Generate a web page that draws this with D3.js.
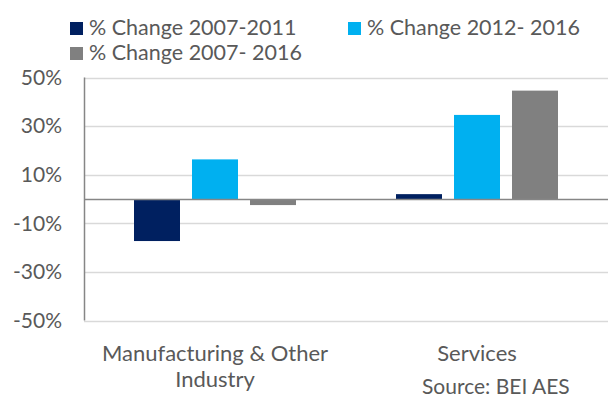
<!DOCTYPE html>
<html>
<head>
<meta charset="utf-8">
<script src="https://cdn.jsdelivr.net/npm/d3@7"></script>
<style>
  body { margin: 0; background: #fff; }
  svg text { font-family: Lato, "Open Sans", sans-serif; fill: #595959; }
</style>
</head>
<body>
<div id="chart"></div>
<script>
// data
const categories = ["Manufacturing & Other Industry", "Services"];
const seriesNames = ["% Change 2007-2011", "% Change 2012- 2016", "% Change 2007- 2016"];
const seriesColors = ["#002060", "#00B0F0", "#808080"];
const change0711 = [-17.3, 2.0];
const change1216 = [16.3, 34.6];
const change0716 = [-2.5, 44.6];
const yTicks = [-50, -30, -10, 10, 30, 50];

const width = 613, height = 401;
const margin = { top: 77.5, right: 5, bottom: 80.5, left: 84 };

const svg = d3.select('#chart')
    .append('svg')
    .attr('width', width)
    .attr('height', height);

const rows = categories.map((c, i) => ({
    cat: c,
    values: [change0711[i], change1216[i], change0716[i]]
}));

const x0 = d3.scaleBand()
    .domain(categories)
    .range([margin.left, width - margin.right])
    .padding(0);

const x1 = d3.scaleBand()
    .domain(d3.range(seriesNames.length))
    .range([0, x0.bandwidth()])
    .paddingInner(0.207)
    .paddingOuter(0.862);

const y = d3.scaleLinear()
    .domain([-50, 50])
    .range([height - margin.bottom, margin.top]);

// gridlines
svg.append('g')
    .selectAll('line')
    .data(yTicks)
    .enter().append('line')
    .attr('x1', margin.left)
    .attr('x2', width - margin.right)
    .attr('y1', d => Math.round(y(d)) + 0.5)
    .attr('y2', d => Math.round(y(d)) + 0.5)
    .attr('stroke', '#d9d9d9')
    .attr('stroke-width', 1.5);

// bars
const groups = svg.append('g')
    .selectAll('g')
    .data(rows)
    .enter().append('g')
    .attr('transform', d => `translate(${x0(d.cat)},0)`);

groups.selectAll('rect')
    .data(d => d.values.map((v, i) => ({ v, i })))
    .enter().append('rect')
    .attr('x', d => x1(d.i))
    .attr('width', x1.bandwidth())
    .attr('y', d => y(Math.max(0, d.v)))
    .attr('height', d => Math.abs(y(d.v) - y(0)))
    .attr('fill', d => seriesColors[d.i]);

// y axis line and zero line
svg.append('line')
    .attr('x1', margin.left + 0.5).attr('x2', margin.left + 0.5)
    .attr('y1', y(50)).attr('y2', y(-50))
    .attr('stroke', '#868686').attr('stroke-width', 1.5);

svg.append('line')
    .attr('x1', margin.left)
    .attr('x2', width - margin.right)
    .attr('y1', Math.round(y(0)) + 0.5)
    .attr('y2', Math.round(y(0)) + 0.5)
    .attr('stroke', '#868686')
    .attr('stroke-width', 1.5);

// y tick labels
const yAxis = d3.axisLeft(y)
    .tickValues(yTicks)
    .tickSize(0)
    .tickPadding(22)
    .tickFormat(d => d + '%');

svg.append('g')
    .attr('transform', `translate(${margin.left},0)`)
    .call(yAxis)
    .call(g => g.select('.domain').remove())
    .selectAll('text')
    .style('font-size', '21px')
    .style('font-family', 'Lato, "Open Sans", sans-serif')
    .attr('fill', '#595959');

// category labels (wrapped like the original)
const catLines = [["Manufacturing & Other", "Industry"], ["Services"]];
svg.append('g')
    .selectAll('text')
    .data(categories)
    .enter().append('text')
    .attr('y', 361)
    .attr('text-anchor', 'middle')
    .style('font-size', '22px')
    .each(function(d, i) {
        const t = d3.select(this);
        catLines[i].forEach((line, j) => {
            t.append('tspan')
                .attr('x', x0(d) + x0.bandwidth() / 2)
                .attr('dy', j === 0 ? 0 : 26)
                .text(line);
        });
    });

// legend
const legendPos = [[70, 22], [348, 22], [70, 47]];
const legend = svg.append('g')
    .selectAll('g')
    .data(seriesNames)
    .enter().append('g')
    .attr('transform', (d, i) => `translate(${legendPos[i][0]},${legendPos[i][1]})`);

legend.append('rect')
    .attr('width', 13)
    .attr('height', 13)
    .attr('fill', (d, i) => seriesColors[i]);

legend.append('text')
    .attr('x', 19)
    .attr('y', 13)
    .style('font-size', '21.5px')
    .text(d => d);

// source note
svg.append('text')
    .attr('x', 422)
    .attr('y', 394)
    .style('font-size', '21px')
    .text('Source: BEI AES');
</script>
</body>
</html>
